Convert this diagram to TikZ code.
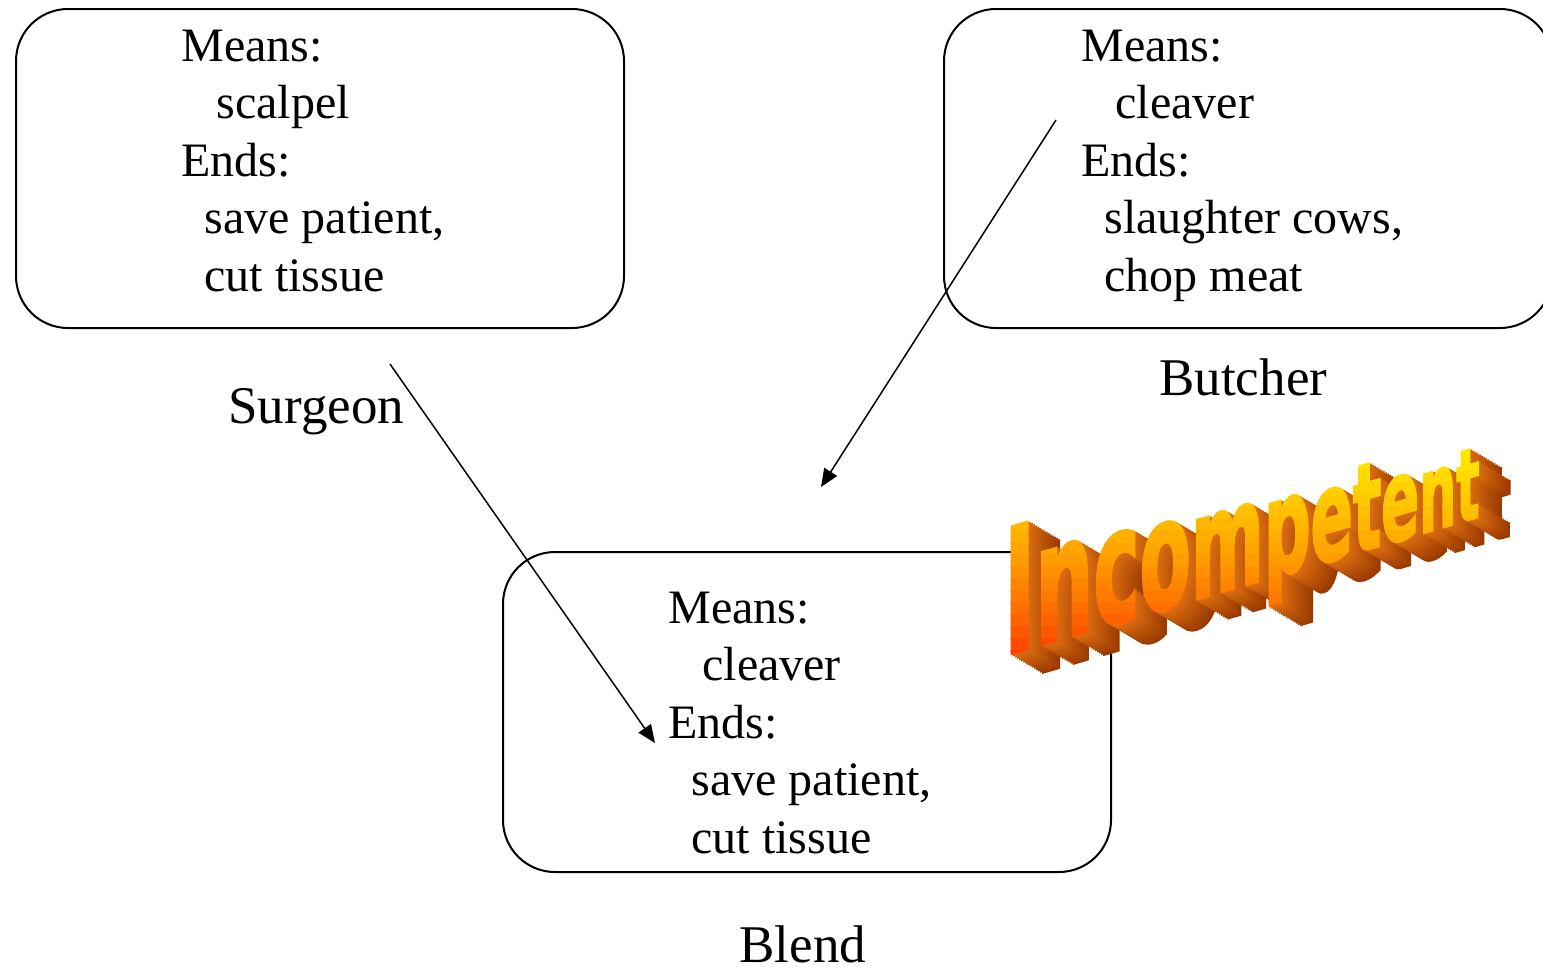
\documentclass[tikz,border=0pt]{standalone}
\usepackage{fontspec}
\setmainfont{Liberation Serif}
\newfontfamily\wafont{DejaVu Sans}[BoldFeatures={FakeBold=2.5}]
\usetikzlibrary{arrows.meta}

\definecolor{wayellow}{HTML}{FFE800}
\definecolor{waorange}{HTML}{FFA000}
\definecolor{wared}{HTML}{FF4000}
\definecolor{waside}{HTML}{D86A10}
\definecolor{waback}{HTML}{9A3A00}

\tikzset{
  panel/.style={draw=black, line width=1pt, rounded corners=26pt,
    minimum width=304pt, minimum height=159.5pt, anchor=north west, inner sep=0pt},
  boxtext/.style={anchor=base west, inner sep=0pt, font=\fontsize{24}{29}\selectfont},
  caption/.style={anchor=base west, inner sep=0pt, font=\fontsize{26.5}{32}\selectfont},
  link/.style={line width=0.75pt, -{Triangle[length=9pt,width=7.5pt]}},
  wl/.style={anchor=base west, inner sep=0pt, outer sep=0pt, transform shape,
    font=\wafont\bfseries\fontsize{86}{86}\selectfont},
  waframe/.style={cm={0.49,0.1426,0,1,(1004,655)}},
}

% the lettering, each letter a little smaller than the one before it
\newcommand\wachain[1]{%
  \node[wl,#1,scale=1.000] (w1) at (0,0) {I};
  \node[wl,#1,scale=0.967] (w2) at (w1.base east) {n};
  \node[wl,#1,scale=0.925] (w3) at (w2.base east) {c};
  \node[wl,#1,scale=0.885] (w4) at (w3.base east) {o};
  \node[wl,#1,scale=0.831] (w5) at (w4.base east) {m};
  \node[wl,#1,scale=0.778] (w6) at (w5.base east) {p};
  \node[wl,#1,scale=0.736] (w7) at (w6.base east) {e};
  \node[wl,#1,scale=0.703] (w8) at (w7.base east) {t};
  \node[wl,#1,scale=0.665] (w9) at (w8.base east) {e};
  \node[wl,#1,scale=0.618] (w10) at (w9.base east) {n};
  \node[wl,#1,scale=0.580] (w11) at (w10.base east) {t};
}

\begin{document}
\begin{tikzpicture}[x=0.5pt,y=-0.5pt]
\useasboundingbox (0,0) rectangle (1543,971);

% panels
\node[panel] (surgeonpanel) at (15,8) {};
\node[panel] (butcherpanel) at (943,8) {};
\node[panel, minimum height=160pt] (blendpanel) at (502,551) {};

% surgeon
\node[boxtext] (s1) at (181,61)    {Means:};
\node[boxtext] (s2) at (216,118.5) {scalpel};
\node[boxtext] (s3) at (181,176)   {Ends:};
\node[boxtext] (s4) at (204,233.5) {save patient,};
\node[boxtext] (s5) at (204,291)   {cut tissue};
\node[caption] (surgeonlabel) at (228,423) {Surgeon};

% butcher
\node[boxtext] (b1) at (1081,61)    {Means:};
\node[boxtext] (b2) at (1115,118.5) {cleaver};
\node[boxtext] (b3) at (1081,176)   {Ends:};
\node[boxtext] (b4) at (1104,233.5) {slaughter cows,};
\node[boxtext] (b5) at (1104,291)   {chop meat};
\node[caption] (butcherlabel) at (1159,395) {Butcher};

% blend
\node[boxtext] (c1) at (668,623)   {Means:};
\node[boxtext] (c2) at (702,680.5) {cleaver};
\node[boxtext] (c3) at (668,738)   {Ends:};
\node[boxtext] (c4) at (691,795.5) {save patient,};
\node[boxtext] (c5) at (691,853)   {cut tissue};
\node[caption] (blendlabel) at (739,962.5) {Blend};

% connectors
\coordinate (surgeontail) at (390,364);
\coordinate (surgeonhead) at (655,743);
\coordinate (butchertail) at (1056,120);
\coordinate (butcherhead) at (821,487);
\draw[link] (surgeontail) -- (surgeonhead);
\draw[link] (butchertail) -- (butcherhead);

% extruded lettering: depth copies from back to front
\foreach \k in {15,...,1} {
  \pgfmathsetmacro\dx{\k*2.1}
  \pgfmathsetmacro\dy{\k*1.25}
  \pgfmathtruncatemacro\m{100*(\k-1)/14}
  \colorlet{wacur}{waback!\m!waside}
  \begin{scope}[shift={(\dx,\dy)}]
    \begin{scope}[waframe]
      \wachain{text=wacur}
    \end{scope}
  \end{scope}
}

% front face, shaded top to bottom in horizontal bands
\foreach \i in {0,...,17} {
  \pgfmathsetmacro\ya{446+12*\i}
  \pgfmathsetmacro\yb{\ya+13}
  \pgfmathsetmacro\t{(\ya+6-455)/200}
  \pgfmathtruncatemacro\p{max(0,min(100,\t*200))}
  \pgfmathtruncatemacro\q{max(0,min(100,(\t-0.5)*200))}
  \colorlet{watmp}{waorange!\p!wayellow}
  \colorlet{wacur}{wared!\q!watmp}
  \begin{scope}
    \clip (990,\ya) rectangle (1530,\yb);
    \begin{scope}[waframe]
      \wachain{text=wacur}
    \end{scope}
  \end{scope}
}
\end{tikzpicture}
\end{document}
